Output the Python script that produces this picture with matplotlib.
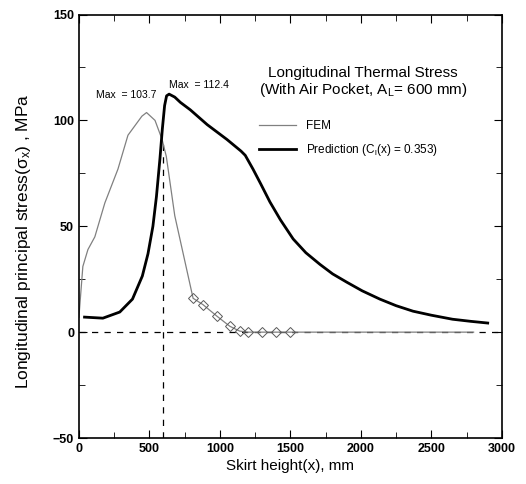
"""Longitudinal thermal stress along skirt height: FEM vs prediction."""

import numpy as np
import matplotlib.pyplot as plt

plt.rcParams["font.family"] = ["Liberation Sans", "DejaVu Sans"]
plt.rcParams["mathtext.default"] = "regular"

# --- data --------------------------------------------------------------
pred_x = [40, 170, 290, 380, 450, 490, 525, 550, 575, 592, 608, 622, 640,
          680, 720, 790, 910, 1050, 1150, 1180, 1235, 1290, 1355, 1430, 1520,
          1610, 1710, 1800, 1900, 2010, 2135, 2250, 2370, 2500, 2650, 2780,
          2900]
pred_y = [7.1, 6.6, 9.5, 15.6, 26.5, 37, 50, 64, 82, 96, 107, 111.6, 112.4,
          111, 108.5, 105, 98, 91, 85.5, 83.5, 77, 70, 61.5, 53, 44,
          37.5, 32, 27.5, 23.6, 19.5, 15.6, 12.5, 9.9, 8, 6.1, 5.1,
          4.3]

fem_x = [0, 28, 64, 113, 184, 277, 348, 447, 480, 540, 590, 620, 680, 810,
         880, 980, 1070, 1140, 1200, 1300, 1400, 1500, 2000, 2500, 2800]
fem_y = [7, 31, 39, 45, 61, 77, 93, 102, 103.7, 100, 91, 83, 55, 16, 13,
         7.5, 2.8, 0.5, 0, 0, 0, 0, 0, 0, 0]
fem_marked = [13, 14, 15, 16, 17, 18, 19, 20, 21]

x_ticks = [0, 500, 1000, 1500, 2000, 2500, 3000]
y_ticks = [-50, 0, 50, 100, 150]

fig = plt.figure(figsize=(5.26, 4.84), dpi=100)
ax = fig.add_axes([0.150, 0.095, 0.804, 0.875])

ax.axhline(0, color="black", lw=0.9, ls=(0, (5, 5)), zorder=1)
ax.vlines(600, -50, 91, color="black", lw=0.9, ls=(0, (5, 5)), zorder=1)

ax.plot(fem_x, fem_y, color="0.5", lw=0.9, label="FEM", zorder=2)
ax.plot([fem_x[i] for i in fem_marked], [fem_y[i] for i in fem_marked],
        ls="none", marker="D", ms=5.5, mfc="none", mec="0.35", mew=0.7,
        zorder=2)
ax.plot(pred_x, pred_y, color="black", lw=2.0,
        label="Prediction (C$_l$(x) = 0.353)", zorder=3)

ax.text(120, 110.5, "Max  = 103.7", fontsize=7.5)
ax.text(640, 115.5, "Max  = 112.4", fontsize=7.5)

ax.text(0.672, 0.84, "Longitudinal Thermal Stress\n(With Air Pocket, A$_L$= 600 mm)",
        transform=ax.transAxes, ha="center", va="center", fontsize=11,
        linespacing=1.05)

ax.legend(loc="upper left", bbox_to_anchor=(0.40, 0.775), frameon=False,
          fontsize=8.5, handlelength=3.2, labelspacing=0.8)

ax.set_xlim(0, 3000)
ax.set_ylim(-50, 150)
ax.set_xticks(x_ticks)
ax.set_yticks(y_ticks)
ax.set_xticks(np.arange(250, 3000, 500), minor=True)
ax.set_yticks(np.arange(-25, 150, 50), minor=True)
ax.tick_params(which="both", direction="in", top=True, right=True,
               labelsize=9)
ax.tick_params(which="major", length=6)
ax.tick_params(which="minor", length=4)
for lbl in ax.get_xticklabels() + ax.get_yticklabels():
    lbl.set_fontweight("bold")
for s in ax.spines.values():
    s.set_linewidth(1.2)

ax.set_xlabel("Skirt height(x), mm", fontsize=11, labelpad=3)
ax.set_ylabel("Longitudinal principal stress(σ$_x$) , MPa", fontsize=12.5)
ax.yaxis.set_label_coords(-0.108, 0.465)

fig.savefig("out.png", dpi=100)
